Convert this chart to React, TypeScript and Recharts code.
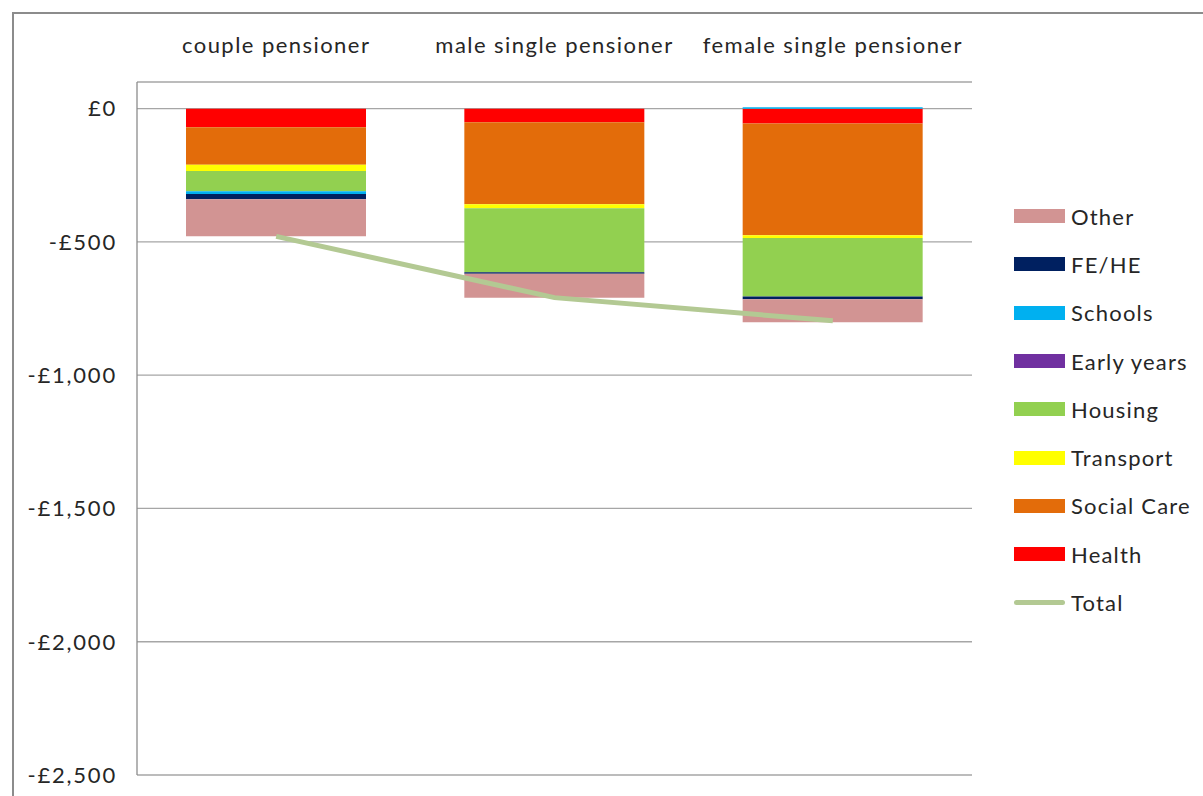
import React from 'react';
import { ComposedChart, Bar, Line, XAxis, YAxis, CartesianGrid, Legend } from 'recharts';

const categories = ['couple pensioner', 'male single pensioner', 'female single pensioner'];
const health = [-70, -51, -56];
const socialCare = [-140, -308, -419];
const transport = [-24, -15, -10];
const housing = [-76, -240, -220];
const earlyYears = [0, 0, 0];
const schools = [-10, 0, 5];
const feHe = [-20, -5, -10];
const other = [-139, -90, -86];
const total = [-479, -709, -796];
const yTicks = [0, -500, -1000, -1500, -2000, -2500];

// stacking order: first series sits against £0
const series = [
  { key: 'health', name: 'Health', color: '#ff0000', values: health },
  { key: 'socialCare', name: 'Social Care', color: '#e36c0a', values: socialCare },
  { key: 'transport', name: 'Transport', color: '#ffff00', values: transport },
  { key: 'housing', name: 'Housing', color: '#92d050', values: housing },
  { key: 'earlyYears', name: 'Early years', color: '#7030a0', values: earlyYears },
  { key: 'schools', name: 'Schools', color: '#00b0f0', values: schools },
  { key: 'feHe', name: 'FE/HE', color: '#002060', values: feHe },
  { key: 'other', name: 'Other', color: '#d29493', values: other },
];
const totalColor = '#b3c993';

const data = categories.map((category, i) => {
  const row: Record<string, string | number> = { category, total: total[i] };
  series.forEach(s => { row[s.key] = s.values[i]; });
  return row;
});

const font = "Lato, 'Open Sans', sans-serif";

const fmt = (v: number) => {
  if (v === 0) return '£0';
  return (v < 0 ? '-' : '') + '£' + Math.abs(v).toLocaleString('en-GB');
};

const LegendBox = () => (
  <div style={{ fontFamily: font, fontSize: 22, color: '#262626', letterSpacing: 1.2 }}>
    {[...series].reverse().map(s => (
      <div key={s.key} style={{ display: 'flex', alignItems: 'center', height: 48.3 }}>
        <span style={{ width: 51, height: 14, background: s.color, marginRight: 6 }} />
        <span>{s.name}</span>
      </div>
    ))}
    <div style={{ display: 'flex', alignItems: 'center', height: 48.3 }}>
      <span style={{ width: 51, height: 5, borderRadius: 3, background: totalColor, marginRight: 6 }} />
      <span>Total</span>
    </div>
  </div>
);

export default function App() {
  return (
    <div style={{ position: 'absolute', left: 0, top: 0, width: 1203, height: 796, overflow: 'hidden', background: '#fff' }}>
      <div style={{ position: 'absolute', left: 12, top: 12, width: 1250, height: 850, border: '2px solid #8c8c8c' }} />
      <ComposedChart
        width={1203}
        height={796}
        data={data}
        stackOffset="sign"
        margin={{ top: 22, right: 231, bottom: 21, left: 17 }}
        style={{ position: 'absolute', left: 0, top: 0 }}
      >
        <CartesianGrid vertical={false} stroke="#a6a6a6" strokeWidth={1.3} />
        <XAxis
          dataKey="category"
          orientation="top"
          height={60}
          axisLine={false}
          tickLine={false}
          tickSize={0}
          tickMargin={29}
          tick={{ fill: '#262626', fontSize: 22, fontFamily: font, letterSpacing: 1.45 }}
        />
        <YAxis
          width={120}
          domain={[-2500, 100]}
          ticks={yTicks}
          tickFormatter={fmt}
          axisLine={{ stroke: '#8c8c8c', strokeWidth: 1.3 }}
          tickLine={false}
          tickSize={0}
          tickMargin={20}
          tick={{ fill: '#262626', fontSize: 22, fontFamily: font, letterSpacing: 1.8 }}
        />
        {series.map(s => (
          <Bar key={s.key} dataKey={s.key} name={s.name} stackId="cost" fill={s.color} barSize={180} isAnimationActive={false} />
        ))}
        <Line dataKey="total" name="Total" type="linear" stroke={totalColor} strokeWidth={5} dot={false} isAnimationActive={false} />
        <Legend
          layout="vertical"
          align="center"
          verticalAlign="middle"
          content={() => <LegendBox />}
          wrapperStyle={{ left: 1014, top: 192, width: 189 }}
        />
      </ComposedChart>
    </div>
  );
}
